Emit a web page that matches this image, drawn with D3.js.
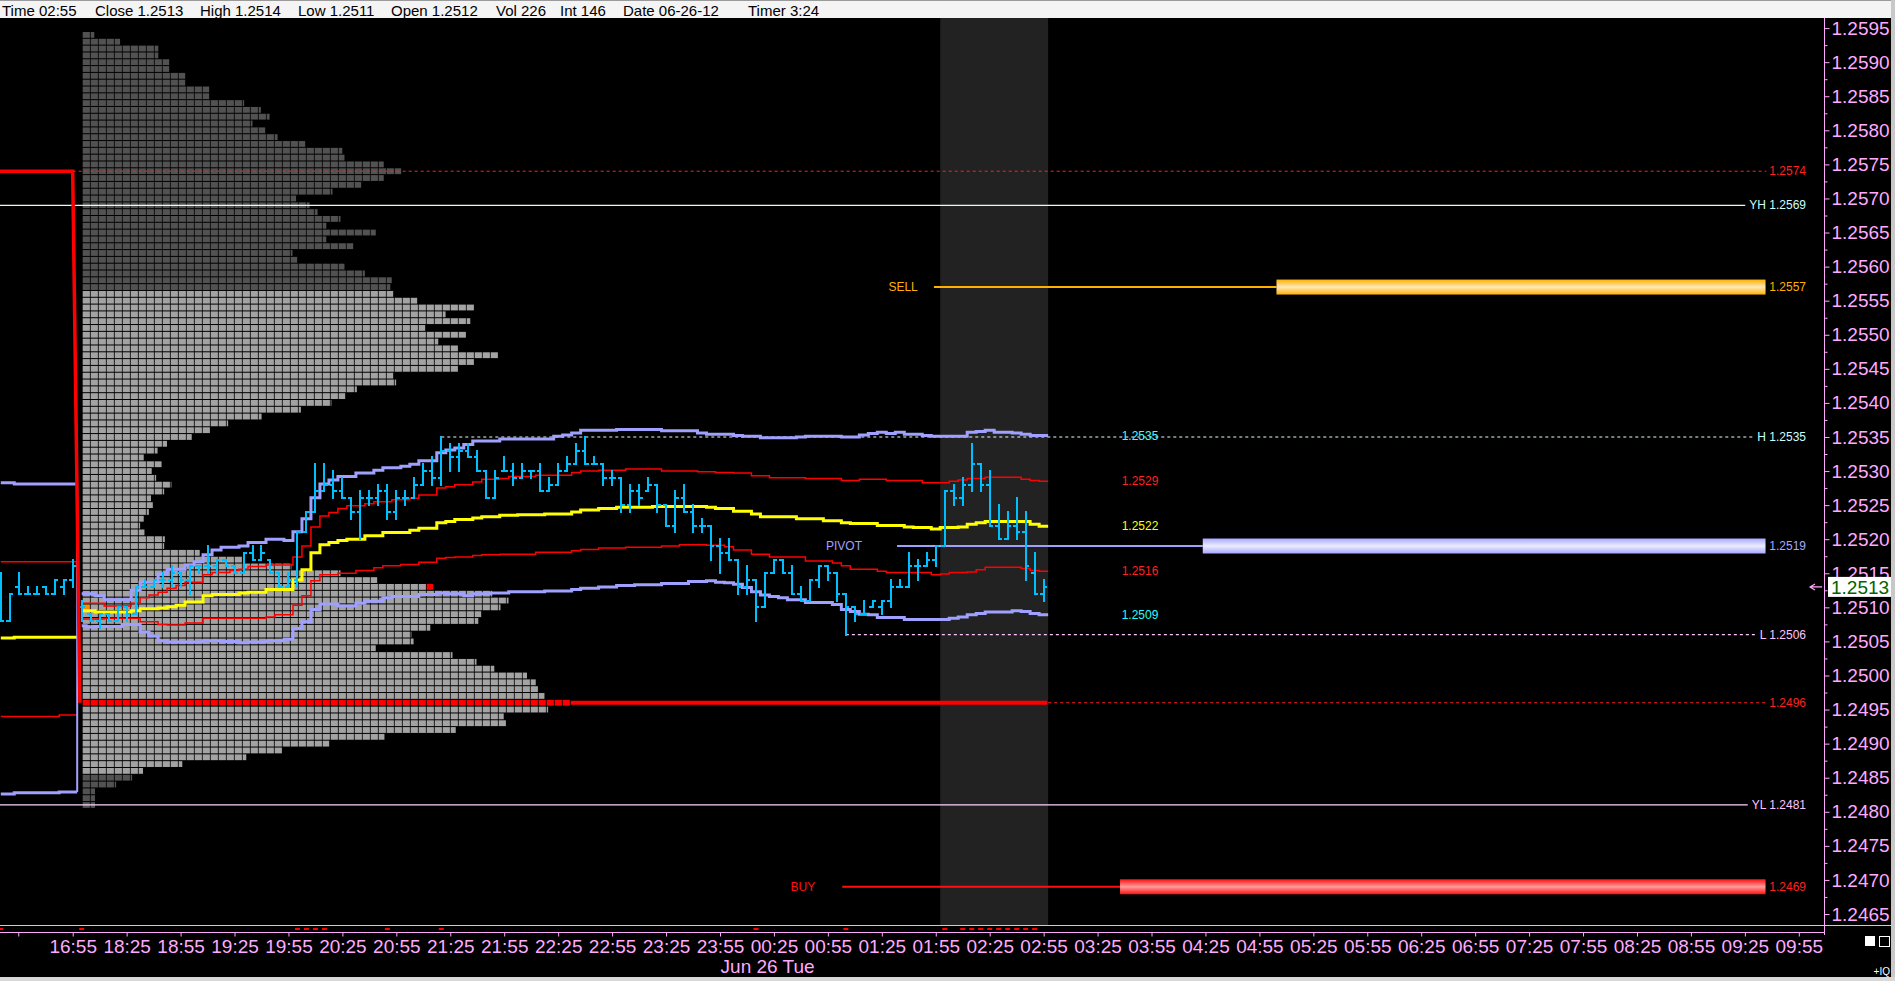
<!DOCTYPE html>
<html><head><meta charset="utf-8">
<script src="https://cdn.jsdelivr.net/npm/d3@7/dist/d3.min.js"></script>
<style>
html,body{margin:0;padding:0;background:#000;overflow:hidden;}
svg{display:block;}
</style></head><body>
<svg id="chart" width="1895" height="981"></svg>
<script>
// ---------------- DATA ----------------
const infoLabels = ["Time 02:55","Close 1.2513","High 1.2514","Low 1.2511","Open 1.2512","Vol 226","Int 146","Date 06-26-12","Timer 3:24"];
const timeLabels = ["16:55","18:25","18:55","19:25","19:55","20:25","20:55","21:25","21:55","22:25","22:55","23:25","23:55","00:25","00:55","01:25","01:55","02:25","02:55","03:25","03:55","04:25","04:55","05:25","05:55","06:25","06:55","07:25","07:55","08:25","08:55","09:25","09:55"];
const dateLabel = "Jun 26 Tue";
const priceTicks = [1.2465,1.2470,1.2475,1.2480,1.2485,1.2490,1.2495,1.2500,1.2505,1.2510,1.2515,1.2520,1.2525,1.2530,1.2535,1.2540,1.2545,1.2550,1.2555,1.2560,1.2565,1.2570,1.2575,1.2580,1.2585,1.2590,1.2595];

// 5-minute OHLC bars, first bar index -8 (prior session), index 0 = 16:55, 1 = 18:00 ... 108 = 02:55
const firstBar = -8;
const barOpen = [
 1.2514,1.2508,1.2513,1.2512,1.2512,1.2513,1.2512,1.2513,1.2514,
 1.2510,1.2509,1.2508,1.2509,1.2508,1.2510,1.2509,1.2513,1.2513,1.2514,
 1.2514,1.2515,1.2514,1.2516,1.2516,1.2516,1.2517,1.2516,1.2515,1.2518,
 1.2517,1.2517,1.2515,1.2513,1.2514,1.2521,1.2524,1.2527,1.2528,1.2527,
 1.2526,1.2524,1.2526,1.2526,1.2527,1.2524,1.2526,1.2526,1.2528,1.2530,
 1.2529,1.2533,1.2532,1.2533,1.2532,1.2530,1.2526,1.2530,1.2530,1.2529,
 1.2530,1.2530,1.2527,1.2528,1.2530,1.2531,1.2533,1.2531,1.2531,1.2529,
 1.2529,1.2525,1.2527,1.2527,1.2528,1.2525,1.2522,1.2526,1.2524,1.2522,
 1.2522,1.2519,1.2518,1.2517,1.2513,1.2514,1.2510,1.2515,1.2517,1.2515,
 1.2512,1.2511,1.2514,1.2516,1.2515,1.2512,1.2510,1.2509,1.2510,1.2510,
 1.2511,1.2513,1.2513,1.2516,1.2516,1.2517,1.2519,1.2527,1.2526,1.2528,
 1.2531,1.2528,1.2522,1.2520,1.2522,1.2521,1.2515,1.2512];
const barHigh = [
 1.2515,1.2512,1.2515,1.2513,1.2513,1.2513,1.2514,1.2514,1.2517,
 1.2511,1.2509,1.2509,1.2509,1.2510,1.2510,1.2513,1.2514,1.2514,1.2515,
 1.2516,1.2515,1.2516,1.2516,1.2519,1.2517,1.2517,1.2516,1.2518,1.2519,
 1.2519,1.2517,1.2515,1.2515,1.2521,1.2524,1.2531,1.2531,1.2530,1.2529,
 1.2526,1.2527,1.2527,1.2528,1.2528,1.2527,1.2527,1.2529,1.2531,1.2532,
 1.2535,1.2534,1.2534,1.2534,1.2533,1.2530,1.2530,1.2532,1.2531,1.2531,
 1.2530,1.2531,1.2529,1.2531,1.2532,1.2534,1.2535,1.2532,1.2531,1.2530,
 1.2529,1.2528,1.2528,1.2529,1.2528,1.2525,1.2527,1.2528,1.2525,1.2523,
 1.2522,1.2520,1.2520,1.2517,1.2516,1.2514,1.2515,1.2517,1.2517,1.2516,
 1.2513,1.2514,1.2516,1.2516,1.2515,1.2512,1.2510,1.2511,1.2511,1.2511,
 1.2514,1.2514,1.2518,1.2517,1.2518,1.2519,1.2527,1.2528,1.2529,1.2534,
 1.2531,1.2530,1.2525,1.2524,1.2526,1.2524,1.2518,1.2514];
const barLow = [
 1.2508,1.2508,1.2512,1.2512,1.2512,1.2512,1.2512,1.2512,1.2513,
 1.2508,1.2508,1.2507,1.2508,1.2508,1.2508,1.2509,1.2513,1.2513,1.2513,
 1.2513,1.2513,1.2512,1.2515,1.2515,1.2515,1.2516,1.2515,1.2515,1.2517,
 1.2517,1.2515,1.2513,1.2513,1.2513,1.2521,1.2524,1.2527,1.2526,1.2526,
 1.2523,1.2520,1.2525,1.2525,1.2523,1.2523,1.2525,1.2526,1.2528,1.2528,
 1.2528,1.2530,1.2530,1.2532,1.2530,1.2526,1.2526,1.2530,1.2528,1.2529,
 1.2529,1.2527,1.2527,1.2528,1.2530,1.2531,1.2531,1.2531,1.2528,1.2528,
 1.2524,1.2524,1.2525,1.2527,1.2524,1.2522,1.2521,1.2524,1.2521,1.2521,
 1.2517,1.2515,1.2517,1.2512,1.2512,1.2508,1.2510,1.2515,1.2515,1.2512,
 1.2511,1.2511,1.2513,1.2514,1.2511,1.2506,1.2508,1.2509,1.2510,1.2509,
 1.2510,1.2513,1.2513,1.2514,1.2516,1.2516,1.2519,1.2525,1.2525,1.2527,
 1.2527,1.2522,1.2520,1.2520,1.2520,1.2514,1.2512,1.2511];
const barClose = [
 1.2508,1.2512,1.2512,1.2512,1.2512,1.2512,1.2514,1.2514,1.2516,
 1.2510,1.2508,1.2509,1.2508,1.2510,1.2509,1.2513,1.2513,1.2514,1.2514,
 1.2515,1.2514,1.2516,1.2516,1.2516,1.2517,1.2516,1.2515,1.2518,1.2517,
 1.2518,1.2515,1.2513,1.2514,1.2521,1.2524,1.2527,1.2528,1.2527,1.2526,
 1.2524,1.2526,1.2526,1.2527,1.2524,1.2526,1.2526,1.2528,1.2530,1.2529,
 1.2533,1.2532,1.2533,1.2532,1.2530,1.2526,1.2529,1.2530,1.2529,1.2530,
 1.2530,1.2527,1.2528,1.2530,1.2531,1.2533,1.2531,1.2531,1.2529,1.2529,
 1.2525,1.2527,1.2526,1.2528,1.2525,1.2522,1.2526,1.2524,1.2522,1.2522,
 1.2519,1.2518,1.2517,1.2513,1.2514,1.2510,1.2515,1.2517,1.2515,1.2512,
 1.2511,1.2514,1.2516,1.2515,1.2512,1.2510,1.2509,1.2509,1.2511,1.2511,
 1.2513,1.2513,1.2516,1.2516,1.2517,1.2519,1.2527,1.2526,1.2528,1.2531,
 1.2528,1.2522,1.2520,1.2522,1.2521,1.2516,1.2512,1.2513];

// current-session VWAP bands, bars 1..108
const sessionFirstBar = 1;
const sessionOpen = 1.2510;
const vwap = [
 1.25095,1.25095,1.25093,1.25093,1.25093,1.25093,1.25095,1.25098,1.25098,1.25099,
 1.25101,1.25103,1.25108,1.25108,1.25117,1.25119,1.25119,1.25119,1.25121,1.25122,
 1.25122,1.25126,1.25126,1.25126,1.25140,1.25155,1.25180,1.25192,1.25195,1.25198,
 1.25200,1.25200,1.25205,1.25205,1.25210,1.25210,1.25210,1.25213,1.25216,1.25216,
 1.25224,1.25226,1.25229,1.25229,1.25231,1.25233,1.25233,1.25235,1.25235,1.25236,
 1.25236,1.25236,1.25237,1.25237,1.25237,1.25240,1.25243,1.25243,1.25245,1.25245,
 1.25247,1.25247,1.25247,1.25247,1.25248,1.25248,1.25248,1.25248,1.25248,1.25248,
 1.25247,1.25245,1.25245,1.25241,1.25241,1.25237,1.25233,1.25233,1.25233,1.25233,
 1.25230,1.25230,1.25230,1.25227,1.25227,1.25224,1.25223,1.25223,1.25223,1.25220,
 1.25220,1.25220,1.25218,1.25217,1.25217,1.25215,1.25217,1.25217,1.25218,1.25222,
 1.25224,1.25226,1.25226,1.25226,1.25226,1.25226,1.25222,1.25219];
const upper1 = [
 1.25106,1.25106,1.25106,1.25102,1.25102,1.25102,1.25106,1.25114,1.25118,1.25122,
 1.25128,1.25132,1.25137,1.25137,1.25148,1.25151,1.25151,1.25154,1.25156,1.25160,
 1.25160,1.25162,1.25162,1.25162,1.25174,1.25190,1.25218,1.25234,1.25239,1.25245,
 1.25249,1.25249,1.25252,1.25255,1.25255,1.25258,1.25258,1.25260,1.25265,1.25265,
 1.25275,1.25277,1.25280,1.25280,1.25284,1.25288,1.25288,1.25289,1.25292,1.25292,
 1.25292,1.25294,1.25294,1.25294,1.25294,1.25298,1.25300,1.25300,1.25301,1.25301,
 1.25301,1.25303,1.25303,1.25303,1.25303,1.25300,1.25300,1.25300,1.25300,1.25299,
 1.25299,1.25298,1.25298,1.25297,1.25297,1.25293,1.25293,1.25290,1.25290,1.25290,
 1.25290,1.25289,1.25289,1.25289,1.25289,1.25286,1.25286,1.25288,1.25288,1.25288,
 1.25286,1.25286,1.25286,1.25286,1.25283,1.25283,1.25283,1.25285,1.25287,1.25289,
 1.25289,1.25291,1.25291,1.25291,1.25291,1.25288,1.25286,1.25285];
const lower1 = [
 1.25083,1.25083,1.25083,1.25084,1.25084,1.25084,1.25084,1.25079,1.25079,1.25075,
 1.25074,1.25074,1.25077,1.25077,1.25084,1.25084,1.25084,1.25084,1.25084,1.25084,
 1.25084,1.25086,1.25089,1.25089,1.25103,1.25117,1.25139,1.25148,1.25148,1.25150,
 1.25150,1.25154,1.25154,1.25158,1.25161,1.25161,1.25163,1.25163,1.25166,1.25166,
 1.25172,1.25173,1.25174,1.25174,1.25176,1.25177,1.25177,1.25178,1.25178,1.25178,
 1.25178,1.25181,1.25181,1.25181,1.25181,1.25183,1.25185,1.25185,1.25187,1.25187,
 1.25187,1.25188,1.25188,1.25188,1.25188,1.25190,1.25190,1.25192,1.25192,1.25192,
 1.25191,1.25191,1.25189,1.25184,1.25184,1.25178,1.25178,1.25174,1.25174,1.25174,
 1.25174,1.25168,1.25168,1.25168,1.25165,1.25161,1.25156,1.25156,1.25156,1.25153,
 1.25151,1.25151,1.25151,1.25151,1.25151,1.25148,1.25149,1.25151,1.25151,1.25152,
 1.25155,1.25159,1.25159,1.25159,1.25159,1.25157,1.25154,1.25153];
const upper2 = [
 1.25120,1.25120,1.25117,1.25111,1.25111,1.25111,1.25125,1.25137,1.25137,1.25149,
 1.25156,1.25156,1.25162,1.25167,1.25177,1.25184,1.25188,1.25188,1.25190,1.25195,
 1.25195,1.25200,1.25200,1.25198,1.25211,1.25230,1.25261,1.25281,1.25287,1.25292,
 1.25292,1.25297,1.25297,1.25301,1.25305,1.25305,1.25307,1.25310,1.25315,1.25315,
 1.25327,1.25331,1.25334,1.25339,1.25344,1.25344,1.25344,1.25347,1.25347,1.25347,
 1.25347,1.25347,1.25347,1.25351,1.25353,1.25356,1.25360,1.25360,1.25360,1.25360,
 1.25361,1.25361,1.25361,1.25361,1.25361,1.25359,1.25359,1.25359,1.25359,1.25356,
 1.25354,1.25354,1.25354,1.25352,1.25351,1.25351,1.25349,1.25349,1.25349,1.25349,
 1.25350,1.25351,1.25351,1.25351,1.25351,1.25350,1.25350,1.25353,1.25355,1.25357,
 1.25355,1.25357,1.25354,1.25354,1.25352,1.25351,1.25351,1.25351,1.25351,1.25357,
 1.25358,1.25360,1.25357,1.25357,1.25356,1.25354,1.25352,1.25352];
const lower2 = [
 1.25073,1.25071,1.25072,1.25072,1.25072,1.25075,1.25075,1.25064,1.25058,1.25051,
 1.25049,1.25049,1.25049,1.25049,1.25051,1.25051,1.25050,1.25050,1.25048,1.25049,
 1.25049,1.25051,1.25051,1.25053,1.25069,1.25079,1.25097,1.25105,1.25105,1.25102,
 1.25102,1.25106,1.25109,1.25109,1.25114,1.25116,1.25116,1.25116,1.25119,1.25119,
 1.25121,1.25120,1.25120,1.25117,1.25120,1.25120,1.25121,1.25121,1.25123,1.25123,
 1.25123,1.25123,1.25124,1.25124,1.25124,1.25126,1.25128,1.25128,1.25130,1.25130,
 1.25132,1.25132,1.25133,1.25133,1.25133,1.25135,1.25135,1.25135,1.25138,1.25138,
 1.25139,1.25137,1.25136,1.25134,1.25129,1.25123,1.25118,1.25116,1.25114,1.25111,
 1.25111,1.25107,1.25107,1.25107,1.25104,1.25097,1.25094,1.25090,1.25089,1.25085,
 1.25085,1.25085,1.25082,1.25082,1.25082,1.25082,1.25082,1.25084,1.25086,1.25089,
 1.25091,1.25093,1.25093,1.25093,1.25095,1.25094,1.25091,1.25089];

// prior-session bands, bars -8..0
const priorUpper2 = [1.25283,1.25283,1.25281,1.25281,1.25281,1.25281,1.25281,1.25281,1.25281];
const priorUpper1 = [1.25167,1.25167,1.25167,1.25167,1.25167,1.25167,1.25167,1.25167,1.25167];
const priorVwap   = [1.25055,1.25055,1.25056,1.25056,1.25056,1.25056,1.25056,1.25056,1.25056];
const priorLower1 = [1.24940,1.24940,1.24940,1.24940,1.24940,1.24940,1.24940,1.24942,1.24942];
const priorLower2 = [1.24826,1.24826,1.24828,1.24828,1.24828,1.24828,1.24828,1.24829,1.24829];

// market profile (cells per price row), from 1.2594 down to 1.2481
const profileTop = 1.2594;
const profileCounts = [
 1.5,4.75,9.5,9.5,10.9,10.9,12.9,12.9,15.9,15.9,
 20.2,22.3,23.4,21.25,22.9,24.4,27.9,32.5,32.8,37.7,
 39.9,37.7,34.9,31.25,26.75,28.4,29.4,32.25,30.5,36.7,
 30.5,33.9,26.25,26.9,32.8,35.3,38.7,38.5,38.9,41.9,
 49,45.4,48.5,42.9,48,44.5,47,52,49,47,
 38.9,39.2,34.3,32.9,31.1,27.3,22.4,18.2,16.0,13.7,
 10.6,9.4,7.7,9.95,8.7,9.2,11.1,10.2,8.6,8.85,
 8.3,7.7,7.2,7.8,10.3,10.2,14.7,20,26.1,32.25,
 36.9,43.9,51.2,53.25,52.25,49.9,49.5,43.5,41.1,41.4,
 36.7,46.25,49.25,51.5,55.6,56.7,57,57.8,61,58.2,
 52.7,53,46.7,37.8,30.9,25,20.5,12.5,7.6,6.2,
 4.2,1.6,1.6,1.6];
const profileDarkFrom = 1.2557;   // rows at/above this are dark
const profileDarkTo = 1.2485;     // rows at/below this are dark
const pocPrice = 1.2496;
const lastPrice = 1.2513;
const lastPriceLabel = "1.2513";

// levels
const priorHigh = 1.2574, yesterdayHigh = 1.2569, sellPrice = 1.2557, sessionHigh = 1.2535;
const pivotPrice = 1.2519, sessionLow = 1.2506, yesterdayLow = 1.2481, buyPrice = 1.2469;
const levelTexts = {priorHigh:"1.2574", yh:"YH 1.2569", sell:"1.2557", h:"H 1.2535", pivot:"1.2519", l:"L 1.2506", poc:"1.2496", yl:"YL 1.2481", buy:"1.2469"};
const bandLabels = ["1.2535","1.2529","1.2522","1.2516","1.2509"];
const markerBars = [-8,1,25,26,27,28,35,41,76,86,97,99,100,101,102,103,104,105,106,107];

// ---------------- DRAWING ----------------
const W = 1895, H = 981;
const FONT = "'Liberation Sans', Arial, Helvetica, sans-serif";
const NARROW = "'Liberation Sans Narrow', 'Arial Narrow', 'Liberation Sans', sans-serif";
const PINK = "#ffaaff";
const plotTop = 18, plotBottom = 925, axisX = 1824;

const svg = d3.select("#chart");
const defs = svg.append("defs");
defs.append("clipPath").attr("id","plotClip").append("rect")
  .attr("x",0).attr("y",plotTop).attr("width",axisX).attr("height",plotBottom-plotTop);

function grad(id, edge, mid){
  const g = defs.append("linearGradient").attr("id",id).attr("x1",0).attr("y1",0).attr("x2",0).attr("y2",1);
  g.append("stop").attr("offset","0%").attr("stop-color",edge);
  g.append("stop").attr("offset","50%").attr("stop-color",mid);
  g.append("stop").attr("offset","100%").attr("stop-color",edge);
}
grad("gSell","#ffb000","#ffe9b8");
grad("gPivot","#a8a8ff","#ececff");
grad("gBuy","#ff1010","#ff9c9c");

const xBar = d3.scaleLinear().domain([0,192]).range([72.7,1798.8]);
const y = d3.scaleLinear().domain([1.2465,1.2595]).range([914,28.1]);
const pip = 0.0001;
const rowPitch = y(1.2500) - y(1.2500+pip);

svg.append("rect").attr("width",W).attr("height",H).attr("fill","#000");

// top info bar
svg.append("rect").attr("x",0).attr("y",0).attr("width",W).attr("height",plotTop).attr("fill","#f4f4f4");
svg.append("line").attr("x1",0).attr("x2",W).attr("y1",0.5).attr("y2",0.5).attr("stroke","#9a9a9a");
const infoX = [2,95,200,298,391,496,560,623,748];
svg.append("g").selectAll("text").data(infoLabels).join("text")
  .attr("x",(d,i)=>infoX[i]).attr("y",15.5)
  .attr("font-family",FONT).attr("font-size",15).attr("fill","#000").text(d=>d);

const plot = svg.append("g").attr("clip-path","url(#plotClip)");

// shaded current hour
plot.append("rect").attr("x",xBar(96.5)).attr("y",plotTop)
  .attr("width",xBar(108.5)-xBar(96.5)).attr("height",plotBottom-plotTop).attr("fill","#222222");

// profile
const profX = d3.scaleLinear().domain([0,1]).range([xBar(1)+1, xBar(1)+9]);
const cellW = 7.2, cellH = rowPitch - 1;
const cells = [];
let pocEnd = profX(0);
profileCounts.forEach((cnt,i)=>{
  const p = +(profileTop - i*pip).toFixed(4);
  const dark = p >= profileDarkFrom - 1e-9 || p <= profileDarkTo + 1e-9;
  const isPoc = Math.abs(p-pocPrice) < 1e-9;
  const isLast = Math.abs(p-lastPrice) < 1e-9;
  const isOpen = Math.abs(p-sessionOpen) < 1e-9;
  const n = Math.ceil(cnt - 1e-9);
  for(let j=0;j<n;j++){
    const frac = Math.min(1, cnt - j);
    let fill = dark ? "#525252" : "#a3a3a3";
    if(isPoc) fill = "#ff0000";
    if(isLast && j===n-1) fill = "#ff0000";
    if(isOpen && j===0) fill = "#ff8c00";
    cells.push({x:profX(j), y:y(p)-cellH/2, w:cellW*frac, fill});
  }
  if(isPoc) pocEnd = profX(cnt);
});
plot.append("g").selectAll("rect").data(cells).join("rect")
  .attr("x",d=>d.x).attr("y",d=>d.y).attr("width",d=>d.w).attr("height",cellH).attr("fill",d=>d.fill);

// level lines & labels on right
const labelEnd = 1806;
const lvlG = svg.append("g");
function rightLabel(text, price, color){
  const t = lvlG.append("text").attr("x",labelEnd).attr("y",y(price)).attr("dy","0.35em")
    .attr("text-anchor","end").attr("font-family",NARROW).attr("font-size",12).attr("fill",color).text(text);
  return labelEnd - t.node().getComputedTextLength();
}
function hline(x1,x2,price,color,width,dash){
  const l = plot.append("line").attr("x1",x1).attr("x2",x2).attr("y1",y(price)).attr("y2",y(price))
    .attr("stroke",color).attr("stroke-width",width);
  if(dash) l.attr("stroke-dasharray",dash);
  return l;
}
let s;
s = rightLabel(levelTexts.priorHigh, priorHigh, "#ff2020"); hline(xBar(0), s-3, priorHigh, "#ff2020", 1, "3,3");
s = rightLabel(levelTexts.yh, yesterdayHigh, "#c8ffff"); hline(0, s-4, yesterdayHigh, "#d8ffff", 1.2);
s = rightLabel(levelTexts.h, sessionHigh, "#c8ffff"); hline(xBar(41), s-4, sessionHigh, "#e4ffff", 1.2, "3,3");
s = rightLabel(levelTexts.l, sessionLow, "#ffc4ff"); hline(xBar(86), s-4, sessionLow, "#ffc8ff", 1.2, "3,3");
s = rightLabel(levelTexts.poc, pocPrice, "#ff2020"); hline(xBar(108.5), s-3, pocPrice, "#ff2020", 1, "3,3");
s = rightLabel(levelTexts.yl, yesterdayLow, "#ffc4ff"); hline(0, s-4, yesterdayLow, "#ffd4ff", 1.2);
rightLabel(levelTexts.sell, sellPrice, "#ffb000");
rightLabel(levelTexts.pivot, pivotPrice, "#a8a8ff");
rightLabel(levelTexts.buy, buyPrice, "#ff2020");

// sell / pivot / buy
function orderLevel(price, lineStart, barStart, barEnd, color, gid, label, labelEndX){
  hline(xBar(lineStart), xBar(barStart), price, color, 2);
  plot.append("rect").attr("x",xBar(barStart)).attr("y",y(price)-7.5)
    .attr("width",xBar(barEnd)-xBar(barStart)).attr("height",15).attr("fill",`url(#${gid})`);
  svg.append("text").attr("x",xBar(labelEndX)).attr("y",y(price)).attr("dy","0.35em").attr("text-anchor","end")
    .attr("font-family",NARROW).attr("font-size",12).attr("fill",color).text(label);
}
orderLevel(sellPrice, 95.8, 133.9, 188.3, "#ffb000", "gSell", "SELL", 94.0);
orderLevel(pivotPrice, 91.7, 125.7, 188.3, "#a0a0ff", "gPivot", "PIVOT", 87.8);
orderLevel(buyPrice, 85.6, 116.5, 188.3, "#ff1010", "gBuy", "BUY", 82.6);

// step lines
function stepPath(vals, start){
  const pts = vals.map((v,i)=>[xBar(start+i), y(v)]);
  pts.push([xBar(start+vals.length-0.5), y(vals[vals.length-1])]);
  return d3.line().curve(d3.curveStep)(pts);
}
function band(vals,start,color,width){
  plot.append("path").attr("d",stepPath(vals,start)).attr("fill","none")
    .attr("stroke",color).attr("stroke-width",width).attr("stroke-linejoin","miter");
}
const RED="#ff0000", YEL="#ffff00", LAV="#a0a0ff";
band(priorUpper1, firstBar, RED, 1.5);
band(priorLower1, firstBar, RED, 1.5);
band(priorVwap, firstBar, YEL, 3);
band(priorUpper2, firstBar, LAV, 3);
band(priorLower2, firstBar, LAV, 3);
plot.append("line").attr("x1",xBar(0.5)).attr("x2",xBar(0.5))
  .attr("y1",y(priorUpper2[priorUpper2.length-1])).attr("y2",y(priorLower2[priorLower2.length-1]))
  .attr("stroke",LAV).attr("stroke-width",2);

band(upper1, sessionFirstBar, RED, 1.5);
band(lower1, sessionFirstBar, RED, 1.5);
band(vwap, sessionFirstBar, YEL, 3);
band(upper2, sessionFirstBar, LAV, 3);
band(lower2, sessionFirstBar, LAV, 3);

// OHLC bars
const bars = barHigh.map((h,i)=>({i:firstBar+i, o:barOpen[i], h, l:barLow[i], c:barClose[i]}));
const CY = "#00bfff";
const bg = plot.append("g").attr("stroke",CY).attr("stroke-width",2).attr("shape-rendering","crispEdges");
bg.selectAll(".hl").data(bars).join("line").attr("class","hl")
  .attr("x1",d=>xBar(d.i)).attr("x2",d=>xBar(d.i)).attr("y1",d=>y(d.h)-1).attr("y2",d=>y(d.l)+1);
bg.selectAll(".op").data(bars).join("line").attr("class","op")
  .attr("x1",d=>xBar(d.i)-3.5).attr("x2",d=>xBar(d.i)).attr("y1",d=>y(d.o)).attr("y2",d=>y(d.o));
bg.selectAll(".cl").data(bars).join("line").attr("class","cl")
  .attr("x1",d=>xBar(d.i)).attr("x2",d=>xBar(d.i)+3.5).attr("y1",d=>y(d.c)).attr("y2",d=>y(d.c));

// thick red transition line (prior high -> POC) and POC extension
plot.append("path")
  .attr("d",`M${xBar(-9)},${y(priorHigh)}H${xBar(0)}L${xBar(0.8)},${y(pocPrice)}`)
  .attr("fill","none").attr("stroke",RED).attr("stroke-width",3.5);
plot.append("line").attr("x1",pocEnd).attr("x2",xBar(108.4)).attr("y1",y(pocPrice)).attr("y2",y(pocPrice))
  .attr("stroke",RED).attr("stroke-width",4);

// band labels
const bandLabelVals = [upper2, upper1, vwap, lower1, lower2].map(a=>a[a.length-1]);
const bandColors = ["#40ffff","#ff2020","#ffff00","#ff2020","#20ffff"];
svg.append("g").selectAll("text").data(bandLabels).join("text")
  .attr("x",xBar(108)+78).attr("y",(d,i)=>y(bandLabelVals[i])).attr("dy","0.35em")
  .attr("font-family",NARROW).attr("font-size",12).attr("fill",(d,i)=>bandColors[i]).text(d=>d);

// right price axis
svg.append("line").attr("x1",axisX+0.5).attr("x2",axisX+0.5).attr("y1",plotTop).attr("y2",935)
  .attr("stroke",PINK).attr("stroke-width",1);
const yAxis = d3.axisRight(y).tickValues(priceTicks).tickFormat(d3.format(".4f")).tickSize(5).tickPadding(2);
const gy = svg.append("g").attr("transform",`translate(${axisX+0.5},0)`).call(yAxis);
gy.select(".domain").remove();
gy.selectAll("line").attr("stroke",PINK);
gy.selectAll("text").attr("fill",PINK).attr("font-size",19).attr("font-family",FONT);
const minorTicks = d3.pairs(priceTicks).map(([a,b])=>(a+b)/2);
const gy2 = svg.append("g").attr("transform",`translate(${axisX+0.5},0)`)
  .call(d3.axisRight(y).tickValues(minorTicks).tickFormat("").tickSize(3));
gy2.select(".domain").remove();
gy2.selectAll("line").attr("stroke",PINK);

// current price marker
svg.append("rect").attr("x",axisX+4).attr("y",y(lastPrice)-10).attr("width",63).attr("height",20).attr("fill","#ffffff");
svg.append("text").attr("x",axisX+7).attr("y",y(lastPrice)).attr("dy","0.36em")
  .attr("font-family",FONT).attr("font-size",19).attr("fill","#006400").text(lastPriceLabel);
svg.append("path").attr("d",`M${axisX-2},${y(lastPrice)}H${axisX-14}M${axisX-9},${y(lastPrice)-3}L${axisX-14},${y(lastPrice)}L${axisX-9},${y(lastPrice)+3}`)
  .attr("stroke",PINK).attr("stroke-width",1.2).attr("fill","none");

// bottom time axis
svg.append("line").attr("x1",0).attr("x2",1891).attr("y1",plotBottom+0.5).attr("y2",plotBottom+0.5).attr("stroke",PINK);
svg.append("line").attr("x1",0).attr("x2",axisX).attr("y1",932.5).attr("y2",932.5).attr("stroke",PINK);
svg.append("g").selectAll("rect").data(markerBars).join("rect")
  .attr("x",d=>xBar(d)-2.5).attr("y",928).attr("width",5).attr("height",2).attr("fill","#ff0000");
const xAxis = d3.axisBottom(xBar).tickValues(timeLabels.map((d,i)=>i*6)).tickFormat((d,i)=>timeLabels[i]).tickSize(4).tickPadding(3);
const gx = svg.append("g").attr("transform","translate(0,932.5)").call(xAxis);
gx.select(".domain").remove();
gx.selectAll("line").attr("stroke",PINK);
gx.selectAll("text").attr("fill",PINK).attr("font-size",19).attr("font-family",FONT);
svg.append("line").attr("x1",xBar(-6)).attr("x2",xBar(-6)).attr("y1",932.5).attr("y2",936.5).attr("stroke",PINK);
svg.append("text").attr("x",xBar(77.3)).attr("y",973).attr("text-anchor","middle")
  .attr("font-family",FONT).attr("font-size",19).attr("fill",PINK).text(dateLabel);

// bottom-right icons
svg.append("rect").attr("x",1865).attr("y",936).attr("width",10).attr("height",10).attr("fill","#ffffff");
svg.append("rect").attr("x",1879.5).attr("y",936.5).attr("width",10).attr("height",10).attr("fill","none").attr("stroke","#ffffff");
svg.append("text").attr("x",1890).attr("y",975).attr("text-anchor","end").attr("font-family",NARROW)
  .attr("font-size",10).attr("fill","#ffffff").text("+IQ");

// window borders
svg.append("rect").attr("x",1891).attr("y",0).attr("width",4).attr("height",H).attr("fill","#c8c8c8");
svg.append("rect").attr("x",0).attr("y",977).attr("width",W).attr("height",4).attr("fill","#d8d8d8");
</script>
</body></html>
